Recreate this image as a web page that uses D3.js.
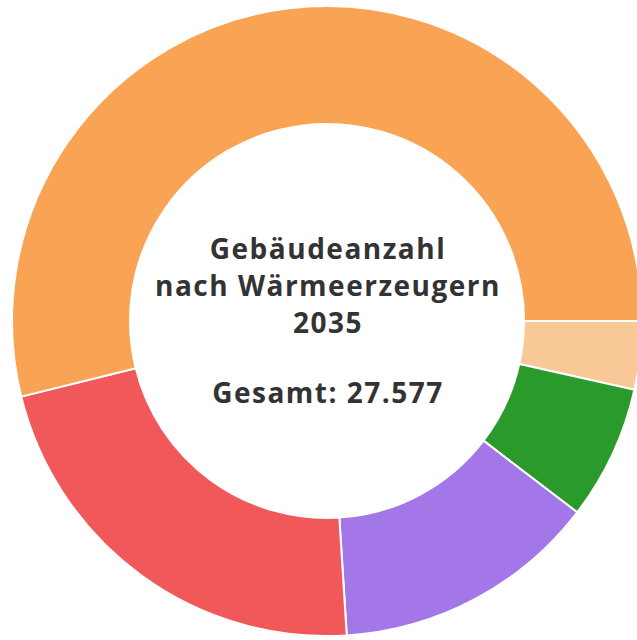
<!DOCTYPE html>
<html>
<head>
<meta charset="utf-8">
<script src="https://cdn.jsdelivr.net/npm/d3@7"></script>
<style>
  html, body { margin: 0; padding: 0; background: #fff; overflow: hidden; }
  svg { display: block; }
</style>
</head>
<body>
<div id="chart"></div>
<script>
// Data (clockwise from 3 o'clock)
const categories = ["Biomasse", "Fernwärme", "Sonstige", "Gas", "Wärmepumpe"];
const values = [965, 1900, 3754, 6105, 14853];
const colors = ["#f8c896", "#2a9a2a", "#a377e8", "#f0585a", "#f9a455"];
const titleLines = ["Gebäudeanzahl", "nach Wärmeerzeugern", "2035"];
const totalLabel = "Gesamt: " + d3.format(",")(d3.sum(values)).replace(/,/g, ".");

const width = 637, height = 640;
const cx = 327, cy = 321;
const outerRadius = 315, innerRadius = 197;

const svg = d3.select("#chart")
  .append("svg")
    .attr("width", width)
    .attr("height", height);

const g = svg.append("g")
  .attr("transform", `translate(${cx},${cy})`);

const color = d3.scaleOrdinal()
  .domain(categories)
  .range(colors);

const pie = d3.pie()
  .sort(null)
  .value(d => d.value)
  .startAngle(Math.PI / 2)
  .endAngle(Math.PI / 2 + 2 * Math.PI);

const arc = d3.arc()
  .innerRadius(innerRadius)
  .outerRadius(outerRadius);

const data = categories.map((c, i) => ({ name: c, value: values[i] }));

g.selectAll("path")
  .data(pie(data))
  .enter()
  .append("path")
    .attr("d", arc)
    .attr("fill", d => color(d.data.name))
    .attr("stroke", "#fff")
    .attr("stroke-width", 2);

// Center text
const font = "'Open Sans', sans-serif";
const text = g.append("text")
  .attr("text-anchor", "middle")
  .style("font-family", font)
  .style("font-weight", 700)
  .style("font-size", "28px")
  .style("letter-spacing", "1.5px")
  .style("fill", "#333");

titleLines.forEach((line, i) => {
  text.append("tspan")
    .attr("x", 1)
    .attr("y", -62 + i * 37)
    .text(line);
});

text.append("tspan")
  .attr("x", 1)
  .attr("y", 82)
  .text(totalLabel);
</script>
</body>
</html>
